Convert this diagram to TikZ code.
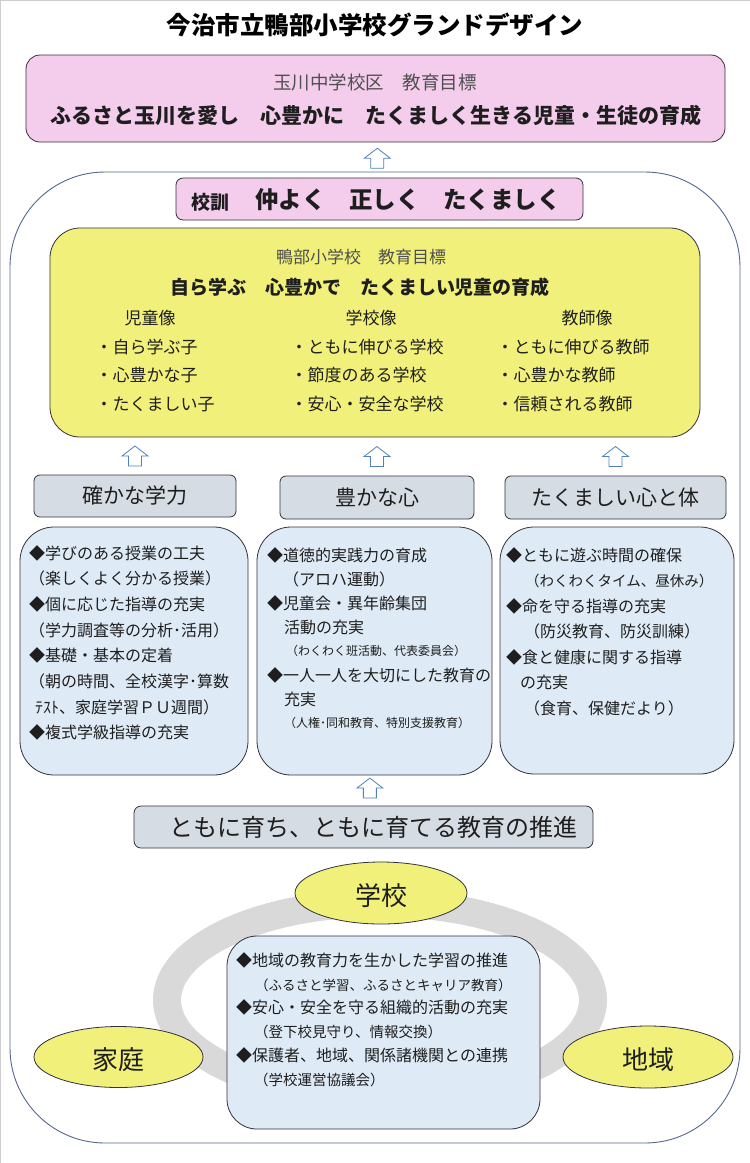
\documentclass[tikz,border=0pt]{standalone}
\usepackage{fontspec}
\setmainfont{Noto Sans CJK JP}
\usepackage{tikz}
\usetikzlibrary{positioning,calc,shapes.geometric}

\definecolor{goalpink}{RGB}{244,204,236}
\definecolor{goalyellow}{RGB}{240,240,122}
\definecolor{pillarblue}{RGB}{222,234,246}
\definecolor{pillargray}{RGB}{214,220,228}
\definecolor{ringgray}{RGB}{217,217,217}
\definecolor{arrowblue}{RGB}{79,129,189}
\definecolor{framegray}{RGB}{84,104,140}
\definecolor{edgedark}{RGB}{50,50,60}
\definecolor{subgray}{RGB}{80,80,80}
\definecolor{textdark}{RGB}{30,30,30}
\definecolor{pagegray}{RGB}{205,205,205}

\newcommand{\fsz}[1]{\fontsize{#1}{#1}\selectfont}

\tikzset{
  box/.style={draw=edgedark, line width=0.8pt, inner sep=0pt},
  pinkbox/.style={box, fill=goalpink, rounded corners=14pt},
  yellowbox/.style={box, fill=goalyellow, rounded corners=30pt},
  graybox/.style={box, fill=pillargray, rounded corners=6pt},
  bluebox/.style={box, fill=pillarblue, rounded corners=34pt},
  place/.style={box, ellipse, fill=goalyellow},
  item/.style={anchor=west, inner sep=0pt, text=textdark},
  label/.style={inner sep=0pt, text=textdark},
  blockarrow/.style={draw=arrowblue, fill=white, line width=0.8pt, line join=miter},
  uparr/.pic={\draw[blockarrow] (0,-10) -- (13,0) -- (6.5,0) -- (6.5,10)
      -- (-6.5,10) -- (-6.5,0) -- (-13,0) -- cycle;}
}

\begin{document}
\begin{tikzpicture}[x=1pt,y=-1pt]
  \useasboundingbox (0,0) rectangle (750,1163);
  \draw[pagegray, line width=1pt] (0.5,1163) -- (0.5,0.5) -- (750,0.5);

  % title
  \node[label, text=black, font=\bfseries\fsz{24.5}] (title) at (375,25) {今治市立鴨部小学校グランドデザイン};

  % district goal
  \node[pinkbox, minimum width=699, minimum height=87] (dist) at (375.5,98.5) {};
  \node[label, text=subgray, font=\fsz{18.5}] (dist-head) at (375,82) {玉川中学校区　教育目標};
  \node[label, font=\bfseries\fsz{21}] (dist-goal) at (376,115) {ふるさと玉川を愛し　心豊かに　たくましく生きる児童・生徒の育成};

  % school frame
  \node[draw=framegray, line width=0.9pt, rounded corners=95pt, minimum width=730, minimum height=971] (school) at (375,657.5) {};

  % motto
  \node[pinkbox, rounded corners=7pt, minimum width=407, minimum height=42] (kokun) at (379.5,199) {};
  \node[label, font=\bfseries\fsz{19}] (kokun-head) at (210,202) {校訓};
  \node[label, font=\bfseries\fsz{23.5}] (kokun-text) at (408,200) {仲よく　正しく　たくましく};
  \pic at ($(dist.south)!0.45!(kokun.north)$) {uparr};

  % school goal
  \node[yellowbox, minimum width=650, minimum height=209] (ideal) at (375,332.5) {};
  \node[label, text=subgray, font=\fsz{17}] (ideal-head) at (361,257) {鴨部小学校　教育目標};
  \node[label, font=\bfseries\fsz{19}] (ideal-goal) at (360,287) {自ら学ぶ　心豊かで　たくましい児童の育成};
  \node[label, font=\fsz{17}] (child) at (150,318) {児童像};
  \node[label, font=\fsz{17}] (schoolimg) at (371,318) {学校像};
  \node[label, font=\fsz{17}] (teacher) at (587,318) {教師像};
  \foreach \t [count=\i] in {・自ら学ぶ子,・心豊かな子,・たくましい子}
    \node[item, font=\fsz{17}] (child-\i) at (95.5,{347+28.5*(\i-1)}) {\t};
  \foreach \t [count=\i] in {・ともに伸びる学校,・節度のある学校,・安心・安全な学校}
    \node[item, font=\fsz{17}] (schoolimg-\i) at (290.5,{347+28.5*(\i-1)}) {\t};
  \foreach \t [count=\i] in {・ともに伸びる教師,・心豊かな教師,・信頼される教師}
    \node[item, font=\fsz{17}] (teacher-\i) at (496.5,{347+28.5*(\i-1)}) {\t};

  % three pillars
  \node[graybox, minimum width=202, minimum height=42] (gakuryoku) at (135,496) {};
  \node[graybox, minimum width=194, minimum height=43] (kokoro) at (377,497.5) {};
  \node[graybox, minimum width=221, minimum height=43] (karada) at (615.5,497.5) {};
  \node[label, font=\fsz{21}] at (gakuryoku) {確かな学力};
  \node[label, font=\fsz{21}] at (kokoro) {豊かな心};
  \node[label, font=\fsz{21}] at (karada) {たくましい心と体};
  \foreach \p in {gakuryoku,kokoro,karada}
    \pic at ($(\p.north |- ideal.south)!0.5!(\p.north)$) {uparr};

  % pillar details
  \node[bluebox, minimum width=228, minimum height=248] (gakuryoku-box) at (134,651) {};
  \node[bluebox, minimum width=235, minimum height=248] (kokoro-box) at (374.5,651) {};
  \node[bluebox, minimum width=234, minimum height=247] (karada-box) at (617,650.5) {};
  \foreach \dx/\t [count=\i] in {0/◆学びのある授業の工夫, 0/（楽しくよく分かる授業）,
      0/◆個に応じた指導の充実, 0/（学力調査等の分析･活用）, 0/◆基礎・基本の定着,
      0/（朝の時間、全校漢字･算数, 6/ﾃｽﾄ、家庭学習ＰＵ週間）, 0/◆複式学級指導の充実}
    \node[item, font=\fsz{16}] (gakuryoku-\i) at ({29+\dx},{553+25.7*(\i-1)}) {\t};
  \foreach \dx/\s/\t [count=\i] in {0/16/◆道徳的実践力の育成, 16/16/（アロハ運動）,
      0/16/◆児童会・異年齢集団, 17/16/活動の充実, 19/12/（わくわく班活動、代表委員会）,
      0/16/◆一人一人を大切にした教育の, 17/16/充実, 17/12/（人権･同和教育、特別支援教育）}
    \node[item, font=\fsz{\s}] (kokoro-\i) at ({267+\dx},{555+24*(\i-1)}) {\t};
  \foreach \dx/\s/\t [count=\i] in {0/16/◆ともに遊ぶ時間の確保, 19/14.5/（わくわくタイム、昼休み）,
      0/16/◆命を守る指導の充実, 18/16/（防災教育、防災訓練）, 0/16/◆食と健康に関する指導,
      14/16/の充実, 18/16/（食育、保健だより）}
    \node[item, font=\fsz{\s}] (karada-\i) at ({506+\dx},{555+25.5*(\i-1)}) {\t};

  % promotion
  \node[graybox, rounded corners=7pt, minimum width=459, minimum height=42] (suishin) at (363.5,827) {};
  \node[label, font=\fsz{24}] (suishin-text) at (373.5,827) {ともに育ち、ともに育てる教育の推進};
  \pic at ($(kokoro-box.south)!0.42!(suishin.north)$) {uparr};

  % school, home and area
  \draw[ringgray, line width=28pt] (380,1000) ellipse [x radius=213, y radius=97];
  \node[place, minimum width=172, minimum height=62] (gakko) at (381,893) {};
  \node[label, font=\fsz{26}] at (381,896) {学校};
  \node[place, minimum width=169, minimum height=61] (katei) at (118.5,1057) {};
  \node[label, font=\fsz{26}] at (118,1060) {家庭};
  \node[place, minimum width=170, minimum height=62] (chiiki) at (648,1057) {};
  \node[label, font=\fsz{26}] at (648,1060) {地域};

  \node[bluebox, rounded corners=30pt, minimum width=313, minimum height=193] (renkei) at (383.5,1032.5) {};
  \foreach \dx/\s/\y/\t in {0/16/960/◆地域の教育力を生かした学習の推進, 19/13.5/985/（ふるさと学習、ふるさとキャリア教育）,
      0/16/1007/◆安心・安全を守る組織的活動の充実, 18/14.5/1032/（登下校見守り、情報交換）,
      0/16/1055/◆保護者、地域、関係諸機関との連携, 18/14.5/1080/（学校運営協議会）}
    \node[item, font=\fsz{\s}] (renkei-\y) at ({236+\dx},\y) {\t};
\end{tikzpicture}
\end{document}
